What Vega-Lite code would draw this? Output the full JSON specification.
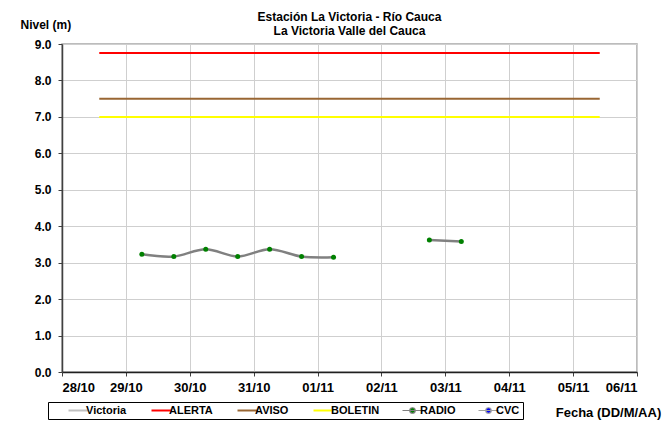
{
  "$schema": "https://vega.github.io/schema/vega-lite/v6.json",
  "width": 575,
  "height": 328,
  "autosize": {"type": "none"},
  "padding": {"left": 62, "top": 44, "right": 34, "bottom": 54},
  "background": "white",
  "config": {
    "font": "Liberation Sans",
    "view": {"stroke": "#a6a6a6", "strokeWidth": 1.5},
    "axis": {
      "labelFont": "Liberation Sans",
      "labelFontWeight": "bold",
      "labelColor": "black",
      "titleFont": "Liberation Sans",
      "titleFontWeight": "bold",
      "titleColor": "black",
      "gridColor": "#cfcfcf",
      "gridWidth": 1,
      "domainColor": "#404040",
      "domainWidth": 1.5,
      "tickColor": "#404040",
      "tickSize": 4
    }
  },
  "title": {
    "text": ["Estación La Victoria - Río Cauca", "La Victoria Valle del Cauca"],
    "font": "Liberation Sans",
    "fontSize": 12,
    "fontWeight": "bold",
    "color": "black",
    "lineHeight": 14,
    "anchor": "middle",
    "offset": -20
  },
  "datasets": {
    "umbrales": [
      {"serie": "ALERTA", "fecha": "2021-10-28T14:00:00Z", "nivel": 8.75},
      {"serie": "ALERTA", "fecha": "2021-11-05T10:00:00Z", "nivel": 8.75},
      {"serie": "AVISO", "fecha": "2021-10-28T14:00:00Z", "nivel": 7.5},
      {"serie": "AVISO", "fecha": "2021-11-05T10:00:00Z", "nivel": 7.5},
      {"serie": "BOLETIN", "fecha": "2021-10-28T14:00:00Z", "nivel": 7.0},
      {"serie": "BOLETIN", "fecha": "2021-11-05T10:00:00Z", "nivel": 7.0}
    ],
    "radio": [
      {"serie": "RADIO", "tramo": 1, "fecha": "2021-10-29T06:00:00Z", "nivel": 3.23},
      {"serie": "RADIO", "tramo": 1, "fecha": "2021-10-29T18:00:00Z", "nivel": 3.17},
      {"serie": "RADIO", "tramo": 1, "fecha": "2021-10-30T06:00:00Z", "nivel": 3.37},
      {"serie": "RADIO", "tramo": 1, "fecha": "2021-10-30T18:00:00Z", "nivel": 3.17},
      {"serie": "RADIO", "tramo": 1, "fecha": "2021-10-31T06:00:00Z", "nivel": 3.37},
      {"serie": "RADIO", "tramo": 1, "fecha": "2021-10-31T18:00:00Z", "nivel": 3.17},
      {"serie": "RADIO", "tramo": 1, "fecha": "2021-11-01T06:00:00Z", "nivel": 3.15},
      {"serie": "RADIO", "tramo": 2, "fecha": "2021-11-02T18:00:00Z", "nivel": 3.62},
      {"serie": "RADIO", "tramo": 2, "fecha": "2021-11-03T06:00:00Z", "nivel": 3.58}
    ]
  },
  "encoding": {
    "x": {
      "field": "fecha",
      "type": "temporal",
      "scale": {"type": "utc", "domain": ["2021-10-28T00:00:00Z", "2021-11-06T00:00:00Z"], "nice": false},
      "axis": {
        "format": "%d/%m",
        "tickCount": {"interval": "day", "step": 1},
        "labelFontSize": 13,
        "labelPadding": 5,
        "labelOverlap": false,
        "title": "Fecha (DD/M/AA)",
        "titleFontSize": 13,
        "titleX": 546,
        "titleY": 40,
        "titleAlign": "center",
        "titleBaseline": "middle",
        "domainColor": "#202020"
      }
    },
    "y": {
      "field": "nivel",
      "type": "quantitative",
      "scale": {"domain": [0, 9], "nice": false},
      "axis": {
        "values": [0, 1, 2, 3, 4, 5, 6, 7, 8, 9],
        "format": ".1f",
        "labelFontSize": 12,
        "labelPadding": 7,
        "title": "Nivel (m)",
        "titleFontSize": 12,
        "titleAngle": 0,
        "titleX": -42,
        "titleY": -16,
        "titleAlign": "left",
        "titleBaseline": "alphabetic"
      }
    }
  },
  "layer": [
    {
      "data": {"name": "umbrales"},
      "mark": {"type": "line", "strokeWidth": 2},
      "encoding": {
        "color": {
          "field": "serie",
          "type": "nominal",
          "scale": {
            "domain": ["Victoria", "ALERTA", "AVISO", "BOLETIN", "RADIO", "CVC"],
            "range": ["#c0c0c0", "#ff0000", "#996633", "#ffff00", "#808080", "#a0a0a0"]
          },
          "legend": {
            "orient": "none",
            "legendX": -14,
            "legendY": 358,
            "direction": "horizontal",
            "columns": 6,
            "gridAlign": "none",
            "columnPadding": 20,
            "padding": 3,
            "strokeColor": "black",
            "fillColor": "white",
            "title": " ",
            "titleOrient": "left",
            "titlePadding": 22,
            "titleFontSize": 11,
            "labelFont": "Liberation Sans",
            "labelFontWeight": "bold",
            "labelFontSize": 11,
            "labelColor": "black",
            "labelOffset": 2,
            "labelExpr": "datum.label === 'CVC' ? 'CVC\u00a0\u00a0\u00a0\u00a0' : datum.label",
            "symbolType": "M-2,0H2",
            "symbolSize": 100,
            "symbolStrokeWidth": 2,
            "encode": {
              "symbols": {
                "update": {
                  "shape": {"signal": "datum.value === 'RADIO' || datum.value === 'CVC' ? 'M-2,0H2M0.55,0A0.55,0.55,0,1,1,-0.55,0A0.55,0.55,0,1,1,0.55,0Z' : 'M-2,0H2'"},
                  "fill": {"signal": "datum.value === 'RADIO' ? '#008000' : datum.value === 'CVC' ? '#0000ff' : 'transparent'"},
                  "strokeWidth": {"signal": "datum.value === 'RADIO' || datum.value === 'CVC' ? 1.2 : 2"}
                }
              }
            }
          }
        }
      }
    },
    {
      "data": {"name": "radio"},
      "mark": {"type": "line", "strokeWidth": 2.5, "interpolate": "catmull-rom"},
      "encoding": {
        "color": {"field": "serie", "type": "nominal"},
        "detail": {"field": "tramo", "type": "nominal"}
      }
    },
    {
      "data": {"name": "radio"},
      "mark": {"type": "point", "filled": true, "opacity": 1, "size": 25, "color": "#008000"},
      "encoding": {}
    }
  ]
}
